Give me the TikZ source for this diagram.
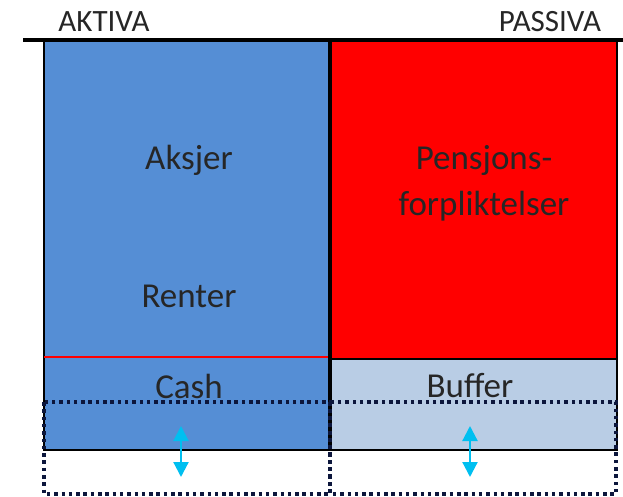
\documentclass[tikz,border=0pt]{standalone}
\usepackage{fontspec}
\setmainfont{Carlito}
\usetikzlibrary{arrows.meta}
\definecolor{aktivablue}{RGB}{85,142,213}
\definecolor{bufferblue}{RGB}{185,205,229}
\definecolor{dotnavy}{RGB}{12,22,60}
\definecolor{flexcyan}{RGB}{0,191,240}
\begin{document}
\begin{tikzpicture}
[x=1pt, y=-1pt,
 box/.style={draw=black, line width=1.5pt},
 txt/.style={font=\fontsize{35}{46}\selectfont, text=black!85, align=center},
 head/.style={font=\fontsize{31}{36}\selectfont, text=black!85},
 dotbox/.style={draw=dotnavy, line width=3.5pt, dash pattern=on 3.5pt off 3.8pt},
 flex/.style={flexcyan, line width=2.2pt, {Triangle[width=15pt,length=15pt]}-{Triangle[width=15pt,length=15pt]}}]
\useasboundingbox (0,0) rectangle (623,497);
% balance fields
\fill[aktivablue] (44,40) rectangle (330,450);
\fill[red] (330,40) rectangle (617,359);
\fill[bufferblue] (330,359) rectangle (617,450);
\draw[box] (44,40) rectangle (617,450);
\draw[box] (330,359) -- (617,359);
\draw[red, line width=2.2pt] (44,357) -- (331,357);
\draw[line width=4.5pt] (330,40) -- (330,450);
\draw[line width=4.5pt] (23,40) -- (623,40);
% buffer band
\draw[dotbox] (44,402) rectangle (330,494);
\draw[dotbox] (330,402) rectangle (616,494);
% texts
\node[head] (aktiva) at (104,22) {AKTIVA};
\node[head] (passiva) at (550,22) {PASSIVA};
\node[txt] (aksjer) at (189,160) {Aksjer};
\node[txt] (renter) at (189,296) {Renter};
\node[txt] (pensjon) at (484,183) {Pensjons-\\forpliktelser};
\node[txt] (cash) at (189,386) {Cash};
\node[txt] (buffer) at (470,386) {Buffer};
% arrows
\coordinate (cashtop) at (181,426);
\coordinate (cashbot) at (181,477);
\coordinate (buftop) at (470,426);
\coordinate (bufbot) at (470,477);
\draw[flex] (cashtop) -- (cashbot);
\draw[flex] (buftop) -- (bufbot);
\end{tikzpicture}
\end{document}
